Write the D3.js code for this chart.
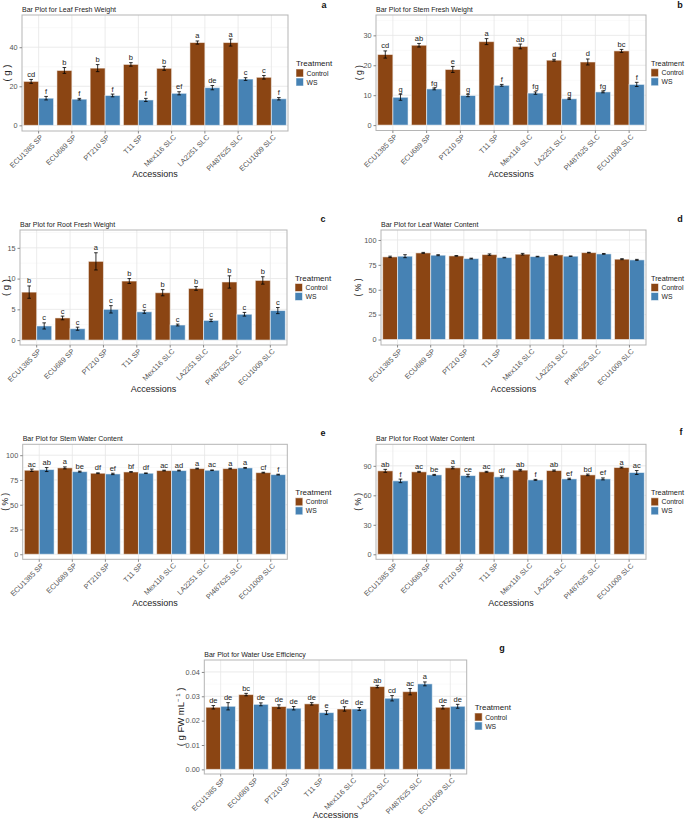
<!DOCTYPE html>
<html>
<head>
<meta charset="utf-8">
<script src="https://cdn.jsdelivr.net/npm/d3@7"></script>
<style>
  body { margin: 0; background: #fff; }
  svg { font-family: "Liberation Sans", Arial, sans-serif; }
</style>
</head>
<body>
<svg id="chart" width="685" height="821"></svg>
<script>
const categories = ["ECU1385 SP", "ECU689 SP", "PT210 SP", "T11 SP", "Mex116 SLC", "LA2251 SLC", "PI487625 SLC", "ECU1009 SLC"];
const treatments = ["Control", "WS"];

// a: leaf fresh weight (g)
const leafFwCtrl = [22.5, 28.1, 29.3, 31.2, 29.2, 42.4, 42.4, 24.6];
const leafFwCtrlSe = [1.0, 1.5, 1.8, 0.9, 1.0, 0.8, 1.8, 0.9];
const leafFwWs = [13.9, 13.4, 15.3, 13.0, 16.4, 19.3, 23.7, 13.6];
const leafFwWsSe = [0.9, 0.4, 0.7, 0.8, 0.8, 1.1, 0.7, 0.6];
const leafFwCtrlLetters = ["cd", "b", "b", "b", "b", "a", "a", "c"];
const leafFwWsLetters = ["f", "f", "f", "f", "ef", "de", "c", "f"];

// b: stem fresh weight (g)
const stemFwCtrl = [23.6, 26.7, 18.6, 27.9, 26.3, 21.7, 21.1, 24.8];
const stemFwCtrlSe = [1.2, 0.6, 1.0, 1.0, 0.8, 0.3, 1.0, 0.5];
const stemFwWs = [9.3, 12.1, 9.9, 13.3, 10.7, 8.8, 11.1, 13.6];
const stemFwWsSe = [1.0, 0.3, 0.4, 0.3, 0.4, 0.2, 0.3, 0.7];
const stemFwCtrlLetters = ["cd", "ab", "e", "a", "ab", "d", "d", "bc"];
const stemFwWsLetters = ["g", "fg", "g", "f", "fg", "g", "fg", "f"];

// c: root fresh weight (g)
const rootFwCtrl = [7.8, 3.6, 12.8, 9.6, 7.7, 8.4, 9.45, 9.7];
const rootFwCtrlSe = [1.0, 0.3, 1.4, 0.4, 0.5, 0.3, 1.0, 0.6];
const rootFwWs = [2.3, 1.85, 5.0, 4.6, 2.45, 3.2, 4.2, 4.8];
const rootFwWsSe = [0.5, 0.25, 0.6, 0.25, 0.15, 0.2, 0.3, 0.5];
const rootFwCtrlLetters = ["b", "c", "a", "b", "b", "b", "b", "b"];
const rootFwWsLetters = ["c", "c", "c", "c", "c", "c", "c", "c"];

// d: leaf water content (%)
const leafWcCtrl = [83.0, 87.0, 84.0, 85.3, 85.7, 85.0, 87.3, 80.7];
const leafWcCtrlSe = [0.7, 0.5, 0.3, 0.7, 0.8, 0.4, 0.3, 0.5];
const leafWcWs = [83.7, 84.7, 81.3, 82.3, 83.3, 83.7, 86.0, 80.0];
const leafWcWsSe = [1.5, 0.5, 0.4, 0.3, 0.3, 0.2, 0.4, 0.5];

// e: stem water content (%)
const stemWcCtrl = [84.8, 87.2, 81.8, 83.1, 84.5, 86.5, 86.5, 82.4];
const stemWcCtrlSe = [1.2, 1.0, 0.4, 0.3, 0.4, 0.4, 0.4, 0.4];
const stemWcWs = [85.5, 83.4, 81.1, 81.8, 84.5, 84.8, 87.2, 80.4];
const stemWcWsSe = [2.0, 0.5, 0.7, 0.3, 0.4, 0.3, 0.4, 0.4];
const stemWcCtrlLetters = ["ac", "a", "df", "bf", "ac", "a", "a", "cf"];
const stemWcWsLetters = ["ab", "be", "ef", "df", "ad", "ac", "a", "f"];

// f: root water content (%)
const rootWcCtrl = [84.9, 83.9, 88.0, 83.9, 85.6, 85.2, 80.8, 88.3];
const rootWcCtrlSe = [1.5, 0.5, 1.0, 0.5, 0.8, 0.6, 0.8, 0.5];
const rootWcWs = [74.7, 80.8, 80.1, 78.8, 75.7, 76.7, 76.7, 83.2];
const rootWcWsSe = [1.8, 0.5, 1.3, 1.0, 0.5, 0.7, 1.0, 2.0];
const rootWcCtrlLetters = ["ab", "ac", "a", "ac", "ab", "ab", "bd", "a"];
const rootWcWsLetters = ["f", "be", "ce", "df", "f", "ef", "ef", "ac"];

// g: water use efficiency (g FW mL-1)
const wueCtrl = [0.0255, 0.0307, 0.0258, 0.0269, 0.0248, 0.0340, 0.0319, 0.0255];
const wueCtrlSe = [0.0007, 0.0005, 0.0007, 0.0005, 0.0009, 0.0005, 0.0013, 0.0007];
const wueWs = [0.0259, 0.0267, 0.0251, 0.0233, 0.0248, 0.0292, 0.0351, 0.0259];
const wueWsSe = [0.0015, 0.0006, 0.0007, 0.0008, 0.0006, 0.0011, 0.0008, 0.0008];
const wueCtrlLetters = ["de", "bc", "de", "de", "de", "ab", "ac", "de"];
const wueWsLetters = ["de", "de", "de", "e", "de", "cd", "a", "de"];

const colors = { Control: "#8B4513", WS: "#4682B4" };
const svg = d3.select("#chart");

function drawPanel(p) {
  const g = svg.append("g");
  const x = d3.scaleBand().domain(categories).range([p.left, p.right]).paddingInner(0.1).paddingOuter(0.05);
  const xs = d3.scaleBand().domain(treatments).range([0, x.bandwidth()]);
  const y = d3.scaleLinear().domain(p.domain).range([p.bottom, p.top]);

  // grid
  const step = p.ticks[1] - p.ticks[0];
  const minor = p.ticks.map(t => t + step / 2);
  g.selectAll(".minor").data(minor.filter(v => y(v) > p.top)).enter().append("line")
    .attr("x1", p.left).attr("x2", p.right).attr("y1", d => y(d)).attr("y2", d => y(d))
    .attr("stroke", "#f2f2f2").attr("stroke-width", 0.5);
  g.selectAll(".major").data(p.ticks).enter().append("line")
    .attr("x1", p.left).attr("x2", p.right).attr("y1", d => y(d)).attr("y2", d => y(d))
    .attr("stroke", "#e6e6e6").attr("stroke-width", 0.8);
  g.selectAll(".vgrid").data(categories).enter().append("line")
    .attr("x1", d => x(d) + x.bandwidth() / 2).attr("x2", d => x(d) + x.bandwidth() / 2)
    .attr("y1", p.top).attr("y2", p.bottom)
    .attr("stroke", "#e6e6e6").attr("stroke-width", 0.8);

  // bars
  const rows = [];
  categories.forEach((c, i) => {
    treatments.forEach((t, j) => {
      rows.push({ c, t, v: p.values[j][i], se: p.se[j][i], lab: p.letters ? p.letters[j][i] : null });
    });
  });
  const bw = xs.bandwidth();
  g.selectAll(".bar").data(rows).enter().append("rect")
    .attr("x", d => x(d.c) + xs(d.t))
    .attr("y", d => y(d.v))
    .attr("width", bw)
    .attr("height", d => y(0) - y(d.v))
    .attr("fill", d => colors[d.t])
    .attr("stroke", "#ffffff").attr("stroke-opacity", 0.55).attr("stroke-width", 1);

  // error bars
  const cap = bw * 0.12;
  const eb = g.selectAll(".eb").data(rows).enter().append("g")
    .attr("stroke", "#000").attr("stroke-width", 0.8);
  eb.append("line")
    .attr("x1", d => x(d.c) + xs(d.t) + bw / 2).attr("x2", d => x(d.c) + xs(d.t) + bw / 2)
    .attr("y1", d => y(d.v - d.se)).attr("y2", d => y(d.v + d.se));
  eb.append("line")
    .attr("x1", d => x(d.c) + xs(d.t) + bw / 2 - cap).attr("x2", d => x(d.c) + xs(d.t) + bw / 2 + cap)
    .attr("y1", d => y(d.v + d.se)).attr("y2", d => y(d.v + d.se));
  eb.append("line")
    .attr("x1", d => x(d.c) + xs(d.t) + bw / 2 - cap).attr("x2", d => x(d.c) + xs(d.t) + bw / 2 + cap)
    .attr("y1", d => y(d.v - d.se)).attr("y2", d => y(d.v - d.se));

  // letters
  if (p.letters) {
    g.selectAll(".lab").data(rows).enter().append("text")
      .attr("x", d => x(d.c) + xs(d.t) + bw / 2)
      .attr("y", d => y(d.v + d.se) - 2.5)
      .attr("text-anchor", "middle")
      .attr("font-size", 7.5).attr("fill", "#222")
      .text(d => d.lab);
  }

  // border
  g.append("rect").attr("x", p.left).attr("y", p.top)
    .attr("width", p.right - p.left).attr("height", p.bottom - p.top)
    .attr("fill", "none").attr("stroke", "#b5b5b5").attr("stroke-width", 1);

  // y axis
  const ya = g.append("g").attr("transform", `translate(${p.left},0)`)
    .call(d3.axisLeft(y).tickValues(p.ticks).tickSize(2.5).tickPadding(2).tickFormat(p.fmt || d3.format("d")));
  ya.select(".domain").remove();
  ya.selectAll("line").attr("stroke", "#888");
  ya.selectAll("text").attr("font-size", 7.3).attr("fill", "#555").attr("font-family", null);

  // x axis
  const xa = g.append("g").attr("transform", `translate(0,${p.bottom})`)
    .call(d3.axisBottom(x).tickSize(2.5).tickFormat(""));
  xa.select(".domain").remove();
  xa.selectAll("line").attr("stroke", "#888");
  g.selectAll(".xl").data(categories).enter().append("text")
    .attr("transform", d => `translate(${x(d) + x.bandwidth() / 2 + 2},${p.bottom + 4}) rotate(-45)`)
    .attr("text-anchor", "end").attr("dy", "0.55em")
    .attr("font-size", 7.3).attr("fill", "#555")
    .text(d => d);

  // titles
  g.append("text").attr("x", p.left).attr("y", p.top - 3)
    .attr("font-size", 7).attr("fill", "#222").text(p.title);
  g.append("text").attr("x", (p.left + p.right) / 2).attr("y", p.xTitleY)
    .attr("text-anchor", "middle").attr("font-size", 9).attr("fill", "#222").text("Accessions");
  const yt = g.append("text")
    .attr("transform", `translate(${p.yTitleX},${(p.top + p.bottom) / 2}) rotate(-90)`)
    .attr("text-anchor", "middle").attr("font-size", p.yTitleSize || 8.5).attr("fill", "#222");
  if (p.yTitle === "wue") {
    yt.append("tspan").text("( g FW mL");
    yt.append("tspan").attr("font-size", 6).attr("dy", -4).text("\u2212 1");
    yt.append("tspan").attr("dy", 4).text(" )");
  } else {
    yt.text(p.yTitle);
  }

  // panel letter
  g.append("text").attr("x", p.letterX).attr("y", p.letterY)
    .attr("text-anchor", "middle").attr("font-size", 9).attr("font-weight", "bold")
    .attr("fill", "#111").text(p.tag);

  // legend
  const lx = p.right + (p.legendGap || 8), ly = (p.top + p.bottom) / 2 - 10;
  const lg = g.append("g").attr("transform", `translate(${lx},${ly})`);
  lg.append("text").attr("x", 0).attr("y", 3).attr("font-size", p.legendTitleSize || 8)
    .attr("fill", "#222").text("Treatment");
  treatments.forEach((t, i) => {
    lg.append("rect").attr("x", 0).attr("y", 6 + i * 9).attr("width", 7.5).attr("height", 8)
      .attr("fill", colors[t]).attr("stroke", "#fff").attr("stroke-opacity", 0.55);
    lg.append("text").attr("x", 10.5).attr("y", 12.5 + i * 9).attr("font-size", 6.8)
      .attr("fill", "#222").text(t);
  });
}

drawPanel({ tag: "a", title: "Bar Plot for Leaf Fresh Weight", yTitle: "( g )",
  left: 22, right: 288, top: 15, bottom: 131, domain: [-2.9, 56.5], ticks: [0, 20, 40],
  values: [leafFwCtrl, leafFwWs], se: [leafFwCtrlSe, leafFwWsSe], letters: [leafFwCtrlLetters, leafFwWsLetters],
  xTitleY: 177, yTitleX: 10, letterX: 324, letterY: 8, yTitleSize: 9.5 });

drawPanel({ tag: "b", title: "Bar Plot for Stem Fresh Weight", yTitle: "( g )",
  left: 376, right: 646, top: 15, bottom: 130.5, domain: [-1.8, 36.8], ticks: [0, 10, 20, 30],
  values: [stemFwCtrl, stemFwWs], se: [stemFwCtrlSe, stemFwWsSe], letters: [stemFwCtrlLetters, stemFwWsLetters],
  xTitleY: 177, yTitleX: 362, letterX: 680, letterY: 8, legendGap: 5, legendTitleSize: 7.3 });

drawPanel({ tag: "c", title: "Bar Plot for Root Fresh Weight", yTitle: "( g )",
  left: 20, right: 287, top: 230, bottom: 345, domain: [-0.8, 17.9], ticks: [0, 5, 10, 15],
  values: [rootFwCtrl, rootFwWs], se: [rootFwCtrlSe, rootFwWsSe], letters: [rootFwCtrlLetters, rootFwWsLetters],
  xTitleY: 392, yTitleX: 9, letterX: 323, letterY: 222, yTitleSize: 9.5 });

drawPanel({ tag: "d", title: "Bar Plot for Leaf Water Content", yTitle: "( % )",
  left: 381, right: 646, top: 230, bottom: 345, domain: [-5.5, 110], ticks: [0, 25, 50, 75, 100],
  values: [leafWcCtrl, leafWcWs], se: [leafWcCtrlSe, leafWcWsSe], letters: null,
  xTitleY: 392, yTitleX: 361, letterX: 680, letterY: 222, legendGap: 5, legendTitleSize: 7.3 });

drawPanel({ tag: "e", title: "Bar Plot for Stem Water Content", yTitle: "( % )",
  left: 22.7, right: 287.3, top: 444.3, bottom: 559.3, domain: [-5.1, 111], ticks: [0, 25, 50, 75, 100],
  values: [stemWcCtrl, stemWcWs], se: [stemWcCtrlSe, stemWcWsSe], letters: [stemWcCtrlLetters, stemWcWsLetters],
  xTitleY: 606, yTitleX: 8, letterX: 323, letterY: 436 });

drawPanel({ tag: "f", title: "Bar Plot for Root Water Content", yTitle: "( % )",
  left: 376, right: 646, top: 444.3, bottom: 559.3, domain: [-5.1, 111.9], ticks: [0, 30, 60, 90],
  values: [rootWcCtrl, rootWcWs], se: [rootWcCtrlSe, rootWcWsSe], letters: [rootWcCtrlLetters, rootWcWsLetters],
  xTitleY: 606, yTitleX: 361, letterX: 681, letterY: 435, legendGap: 5, legendTitleSize: 7.3 });

drawPanel({ tag: "g", title: "Bar Plot for Water Use Efficiency", yTitle: "wue",
  left: 204.3, right: 466.7, top: 660, bottom: 774, domain: [-0.0019, 0.0449], ticks: [0, 0.01, 0.02, 0.03, 0.04],
  fmt: d3.format(".2f"),
  values: [wueCtrl, wueWs], se: [wueCtrlSe, wueWsSe], letters: [wueCtrlLetters, wueWsLetters],
  xTitleY: 818, yTitleX: 184, letterX: 502, letterY: 651, yTitleSize: 9.5 });
</script>
</body>
</html>
